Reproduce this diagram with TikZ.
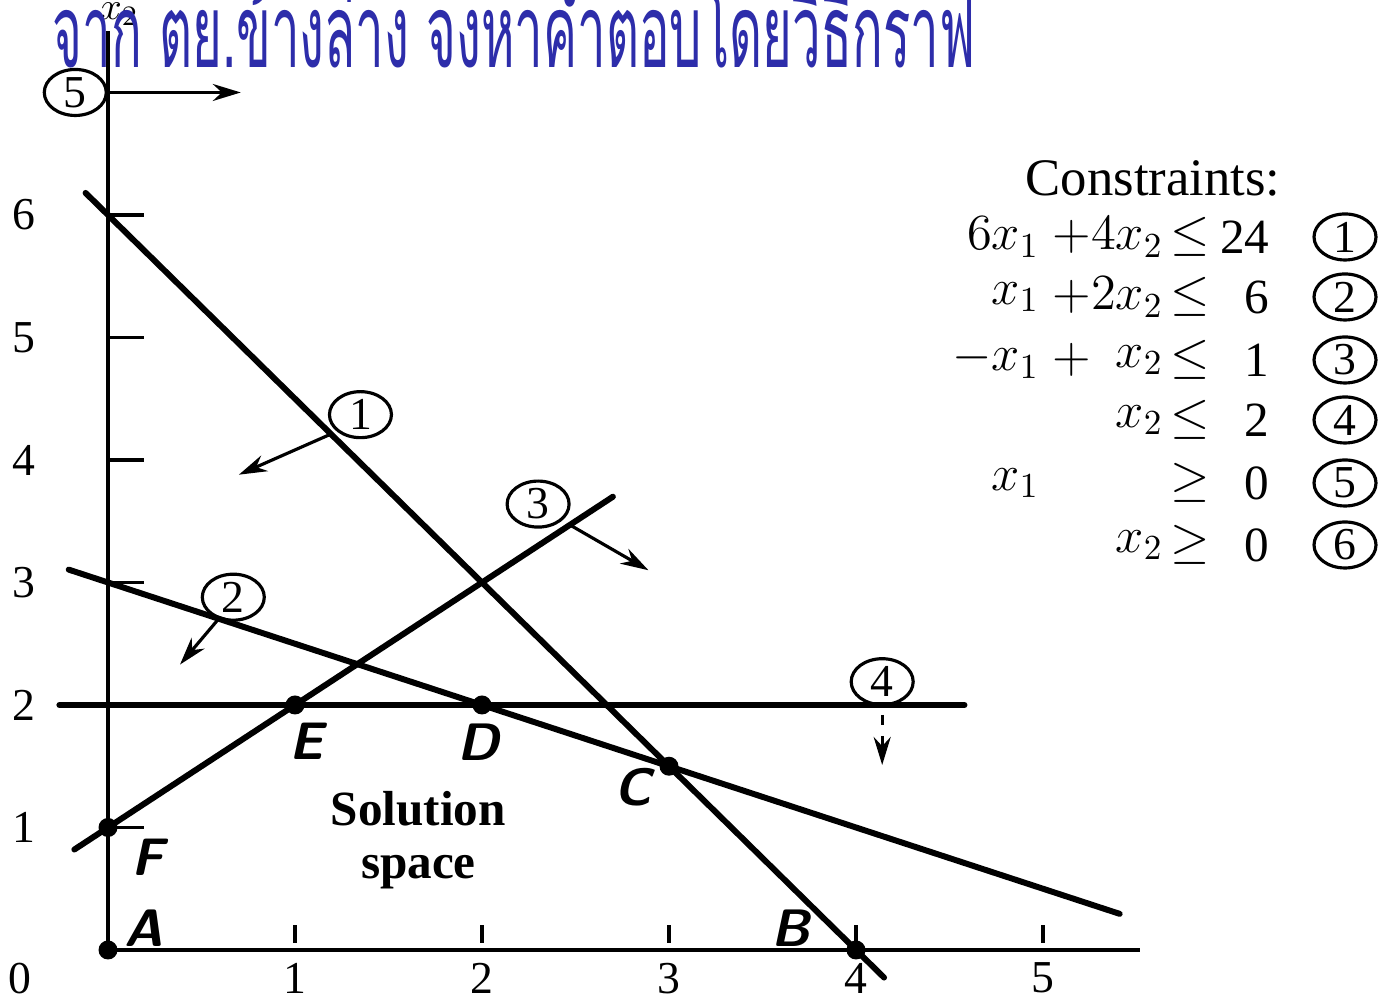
\documentclass[tikz,border=0pt]{standalone}
\usepackage{fontspec}
\setmainfont{Liberation Serif}
\newfontfamily\thaifont[Script=Thai]{Loma}
\usetikzlibrary{arrows.meta,shapes.geometric}
\definecolor{titleblue}{RGB}{45,45,170}
\tikzset{
  cline/.style={line width=1.7pt, line cap=round},
  axisline/.style={line width=1.2pt},
  tickmark/.style={line width=1pt},
  cnum/.style={draw, ellipse, line width=0.9pt, minimum width=0.62cm, minimum height=0.46cm, inner sep=0pt, font=\fontsize{13}{13}\selectfont},
  vdot/.style={circle, fill, inner sep=0pt, minimum size=0.19cm},
  ptlabel/.style={font=\sffamily\bfseries\itshape\fontsize{15}{15}\selectfont},
  numlabel/.style={font=\fontsize{13}{13}\selectfont},
  feasarrow/.style={-{Stealth[length=0.28cm,width=0.17cm]}, line width=0.9pt},
  eqtext/.style={font=\fontsize{14}{14}\selectfont, inner sep=0pt}
}
\begin{document}
\begin{tikzpicture}
\useasboundingbox (0,0) rectangle (13.98,10);
\fill[white] (0,0) rectangle (13.98,10);

\begin{scope}[x=1.87cm, y=1.225cm, shift={(1.08cm,0.50cm)}]
  % vertices
  \node[vdot] (A) at (0,0) {};
  \node[vdot] (B) at (4,0) {};
  \node[vdot] (C) at (3,1.5) {};
  \node[vdot] (D) at (2,2) {};
  \node[vdot] (E) at (1,2) {};
  \node[vdot] (F) at (0,1) {};

  % axes
  \coordinate (xend) at (5.52,0);
  \coordinate (ytop) at (0,7.5);
  \draw[axisline] (A.center) -- (xend);
  \draw[axisline] (A.center) -- (ytop);
  \node[font=\fontsize{11}{11}\selectfont, inner sep=1pt] (x2lab) at (0.06,7.64) {$x_2$};

  % ticks
  \foreach \k in {1,3,4,5,6} {
    \coordinate (yt\k a) at (0,\k);
    \coordinate (yt\k b) at (0.19,\k);
    \draw[tickmark] (yt\k a) -- (yt\k b);
  }
  \foreach \k in {1,...,5} {
    \coordinate (xt\k a) at (\k,0.06);
    \coordinate (xt\k b) at (\k,0.2);
    \draw[tickmark] (xt\k a) -- (xt\k b);
  }
  % tick labels
  \foreach \k in {1,...,6} {
    \node[numlabel] (ylab\k) at (-0.45,\k) {\k};
  }
  \foreach \k in {1,...,5} {
    \node[numlabel] (xlab\k) at (\k,-0.23) {\k};
  }
  \node[numlabel] (zero) at (-0.47,-0.23) {0};

  % constraint lines
  \coordinate (l1a) at (-0.12,6.18);
  \coordinate (l1b) at (4.15,-0.225);
  \coordinate (l2a) at (-0.21,3.105);
  \coordinate (l2b) at (5.41,0.295);
  \coordinate (l3a) at (-0.18,0.82);
  \coordinate (l3b) at (2.70,3.70);
  \coordinate (l4a) at (-0.26,2);
  \coordinate (l4b) at (4.58,2);
  \draw[cline] (l1a) -- (l1b);
  \draw[cline] (l2a) -- (l2b);
  \draw[cline] (l3a) -- (l3b);
  \draw[cline] (l4a) -- (l4b);

  % constraint labels and arrows
  \node[cnum] (c1) at (1.35,4.37) {1};
  \coordinate (a1s) at (1.19,4.21);
  \coordinate (a1e) at (0.70,3.88);
  \draw[feasarrow] (a1s) -- (a1e);

  \node[cnum] (c2) at (0.67,2.88) {2};
  \coordinate (a2s) at (0.59,2.70);
  \coordinate (a2e) at (0.385,2.33);
  \draw[feasarrow] (a2s) -- (a2e);

  \node[cnum] (c3) at (2.30,3.64) {3};
  \coordinate (a3s) at (2.47,3.47);
  \coordinate (a3e) at (2.89,3.10);
  \draw[feasarrow] (a3s) -- (a3e);

  \node[cnum] (c4) at (4.14,2.19) {4};
  \coordinate (a4s) at (4.14,1.92);
  \coordinate (a4e) at (4.14,1.51);
  \draw[feasarrow, dashed] (a4s) -- (a4e);

  \node[cnum] (c5) at (-0.175,7.0) {5};
  \coordinate (a5e) at (0.71,7.0);
  \draw[feasarrow] (c5.east) -- (a5e);

  % vertex labels
  \node[ptlabel] (Alab) at (0.19,0.18) {A};
  \node[ptlabel] (Blab) at (3.65,0.18) {B};
  \node[ptlabel] (Clab) at (2.81,1.33) {C};
  \node[ptlabel] (Dlab) at (1.98,1.70) {D};
  \node[ptlabel] (Elab) at (1.06,1.70) {E};
  \node[ptlabel] (Flab) at (0.21,0.76) {F};

  \node[font=\bfseries\fontsize{14}{15}\selectfont, align=center] (sol) at (1.66,0.895) {Solution\\space};
\end{scope}

% title
\node[anchor=base west, inner sep=0pt, text=titleblue, font=\thaifont\fontsize{29}{29}\selectfont] (title) at (0.52,9.32) {\scalebox{0.5}[1.0]{จาก ตย.ข้างล่าง จงหาคำตอบโดยวิธีกราฟ}};

% constraints legend
\node[font=\fontsize{15}{15}\selectfont] (ctitle) at (11.53,8.22) {Constraints:};
\foreach \r/\y/\ta/\pl/\tb/\rel/\rhs/\cn in {
  1/7.63/{$6x_1$}/{$+$}/{$4x_2$}/{$\le$}/{24}/1,
  2/7.03/{$x_1$}/{$+$}/{$2x_2$}/{$\le$}/{6}/2,
  3/6.40/{$-x_1$}/{$+$}/{$x_2$}/{$\le$}/{1}/3,
  4/5.80/{}/{}/{$x_2$}/{$\le$}/{2}/4,
  5/5.17/{$x_1$}/{}/{}/{$\ge$}/{0}/5,
  6/4.55/{}/{}/{$x_2$}/{$\ge$}/{0}/6} {
  \node[eqtext, anchor=east] (ta\r) at (10.40,\y) {\ta};
  \node[eqtext] (pl\r) at (10.72,\y) {\pl};
  \node[eqtext, anchor=east] (tb\r) at (11.64,\y) {\tb};
  \node[eqtext] (rel\r) at (11.90,\y) {\rel};
  \node[eqtext, anchor=east] (rhs\r) at (12.70,\y) {\rhs};
  \node[cnum] (lc\r) at (13.45,\y) {\cn};
}
\end{tikzpicture}
\end{document}
